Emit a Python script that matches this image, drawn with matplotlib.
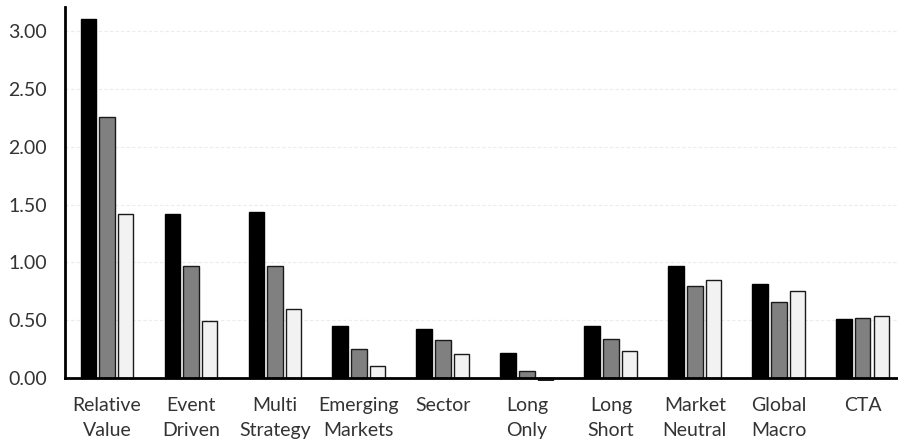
import matplotlib.pyplot as plt
import numpy as np

plt.rcParams['font.family'] = ['Lato', 'DejaVu Sans']

categories = ['Relative\nValue', 'Event\nDriven', 'Multi\nStrategy', 'Emerging\nMarkets', 'Sector',
              'Long\nOnly', 'Long\nShort', 'Market\nNeutral', 'Global\nMacro', 'CTA']
series_1 = [3.11, 1.42, 1.44, 0.45, 0.42, 0.22, 0.45, 0.97, 0.81, 0.51]
series_2 = [2.26, 0.97, 0.97, 0.25, 0.33, 0.06, 0.34, 0.80, 0.66, 0.52]
series_3 = [1.42, 0.49, 0.60, 0.10, 0.21, -0.02, 0.23, 0.85, 0.75, 0.54]
yticks = [0.0, 0.5, 1.0, 1.5, 2.0, 2.5, 3.0]

fig = plt.figure(figsize=(8.98, 4.44), dpi=100)
ax = fig.add_axes([65 / 898, 0.1408, 1 - 65 / 898, 0.9842 - 0.1408])

x = np.arange(len(categories))
w = 0.185
step = 0.222
ax.bar(x - step, series_1, w, color='black', edgecolor='black', linewidth=1, zorder=3)
ax.bar(x, series_2, w, color='#808080', edgecolor='#1a1a1a', linewidth=1, zorder=3)
ax.bar(x + step, series_3, w, color='#f2f2f2', edgecolor='#1a1a1a', linewidth=1, zorder=3)

ax.set_xlim(-0.5, 9.42)
ax.set_ylim(-0.03, 3.21)
ax.set_yticks(yticks)
ax.set_yticklabels([f'{v:.2f}' for v in yticks])
ax.set_xticks(x)
ax.set_xticklabels(categories)

ax.grid(axis='y', color='#ececec', linestyle=(0, (3, 2)), linewidth=0.8, zorder=0)
for s in ['top', 'right']:
    ax.spines[s].set_visible(False)
ax.spines['bottom'].set_position(('data', 0))
ax.spines['bottom'].set_linewidth(2)
ax.spines['left'].set_linewidth(2)
ax.spines['left'].set_bounds(0, 3.21)
ax.spines['bottom'].set_zorder(4)

ax.tick_params(axis='both', length=0, labelsize=14, colors='#333333')
ax.tick_params(axis='y', pad=13)
ax.tick_params(axis='x', pad=14)
# wider gap between the two lines of each category name
for t in ax.get_xticklabels():
    t.set_linespacing(1.55)

fig.savefig('out.png', dpi=100)
